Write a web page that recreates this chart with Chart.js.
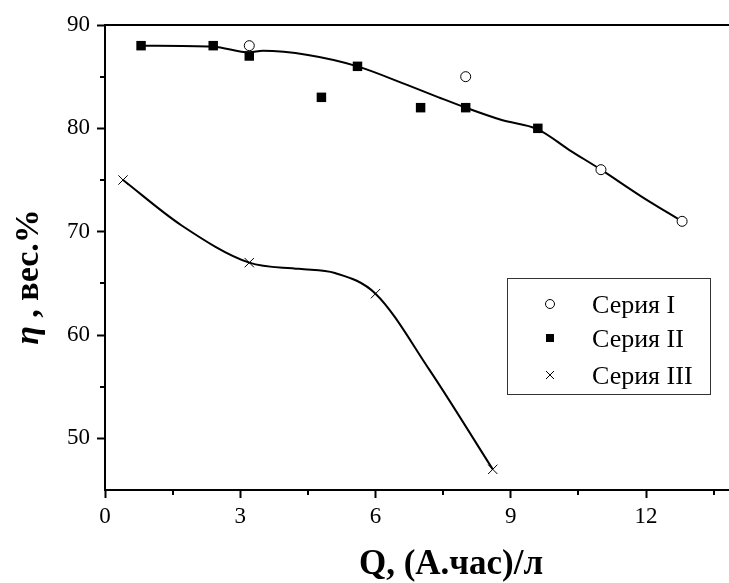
<!DOCTYPE html>
<html>
<head>
<meta charset="utf-8">
<script src="https://cdn.jsdelivr.net/npm/chart.js@4.4.1/dist/chart.umd.min.js"></script>
<style>
html, body { margin: 0; padding: 0; background: #fff; }
#wrap { width: 729px; height: 583px; }
</style>
</head>
<body>
<div id="wrap"><canvas id="chart" width="729" height="583"></canvas></div>
<script>
// Серия I (открытые кружки)
const q1 = [3.2, 8.0, 11.0, 12.8];
const eta1 = [88, 85, 76, 71];
// Серия II (квадраты)
const q2 = [0.8, 2.4, 3.2, 4.8, 5.6, 7.0, 8.0, 9.6];
const eta2 = [88, 88, 87, 83, 86, 82, 82, 80];
// Серия III (крестики)
const q3 = [0.4, 3.2, 6.0, 8.6];
const eta3 = [75, 67, 64, 47];

// сглаженные кривые
const fitQ12 = [0.8, 2.4, 3.2, 3.5, 4.5, 5.6, 6.7, 7.4, 8.0, 8.8, 9.6, 10.3, 11.0, 11.9, 12.8];
const fitEta12 = [88, 87.9, 87.35, 87.5, 87.1, 86.0, 84.2, 83.0, 82.0, 80.8, 79.9, 77.9, 76, 73.4, 71];
const fitQ3 = [0.4, 1.7, 3.2, 4.3, 5.1, 6.0, 7.2, 8.6];
const fitEta3 = [75, 70.6, 67, 66.4, 66, 64, 56.6, 47];

const xTicks = [0, 3, 6, 9, 12];
const xMinor = [1.5, 4.5, 7.5, 10.5, 13.5];
const yTicks = [50, 60, 70, 80, 90];
const yMinor = [55, 65, 75, 85];
const seriesNames = ['Серия I', 'Серия II', 'Серия III'];
const xTitle = 'Q, (А.час)/л';
const yTitleSym = 'η';
const yTitleRest = ' , вес.%';

const pts = (xs, ys) => xs.map((v, i) => ({ x: v, y: ys[i] }));
const serif = '"Liberation Serif", "Times New Roman", serif';

// рамка сверху, мелкие засечки, подписи осей и легенда
const extras = {
    id: 'extras',
    afterDraw(chart) {
        const { ctx, chartArea: a, scales: { x, y } } = chart;
        ctx.save();
        ctx.strokeStyle = '#000';
        ctx.lineWidth = 2;
        ctx.beginPath();
        ctx.moveTo(a.left - 1, a.top);
        ctx.lineTo(a.right, a.top);
        ctx.stroke();

        ctx.beginPath();
        xMinor.forEach(v => {
            const px = Math.round(x.getPixelForValue(v));
            ctx.moveTo(px, a.bottom);
            ctx.lineTo(px, a.bottom + 5);
        });
        yMinor.forEach(v => {
            const py = Math.round(y.getPixelForValue(v));
            ctx.moveTo(a.left, py);
            ctx.lineTo(a.left - 5, py);
        });
        ctx.stroke();

        // подпись оси X
        ctx.fillStyle = '#000';
        ctx.font = 'bold 35px ' + serif;
        ctx.textAlign = 'center';
        ctx.textBaseline = 'alphabetic';
        ctx.fillText(xTitle, 451, 574);

        // подпись оси Y
        ctx.save();
        ctx.translate(38, 277);
        ctx.rotate(-Math.PI / 2);
        ctx.textAlign = 'left';
        const fSym = 'bold italic 34px ' + serif;
        const fRest = 'bold 34px ' + serif;
        ctx.font = fSym;
        const w1 = ctx.measureText(yTitleSym).width;
        ctx.font = fRest;
        const w2 = ctx.measureText(yTitleRest).width;
        let sx = -(w1 + w2) / 2;
        ctx.font = fSym;
        ctx.fillText(yTitleSym, sx, 0);
        ctx.font = fRest;
        ctx.fillText(yTitleRest, sx + w1, 0);
        ctx.restore();

        // легенда
        ctx.lineWidth = 1;
        ctx.strokeStyle = '#333';
        ctx.strokeRect(507.5, 278.5, 203, 116);
        ctx.font = '26px ' + serif;
        ctx.textAlign = 'left';
        const rows = [304, 338, 375];
        const mx = 550;
        ctx.strokeStyle = '#000';
        // кружок
        ctx.beginPath();
        ctx.arc(mx, rows[0], 4.5, 0, Math.PI * 2);
        ctx.fillStyle = '#fff';
        ctx.fill();
        ctx.stroke();
        // квадрат
        ctx.fillStyle = '#000';
        ctx.fillRect(mx - 4, rows[1] - 4, 8, 8);
        // крестик
        ctx.beginPath();
        ctx.moveTo(mx - 4, rows[2] - 4); ctx.lineTo(mx + 4, rows[2] + 4);
        ctx.moveTo(mx - 4, rows[2] + 4); ctx.lineTo(mx + 4, rows[2] - 4);
        ctx.stroke();
        seriesNames.forEach((n, i) => ctx.fillText(n, 592, rows[i] + 9));
        ctx.restore();
    }
};

const ctx = document.getElementById('chart').getContext('2d');
new Chart(ctx, {
    type: 'scatter',
    data: {
        datasets: [
            {
                label: seriesNames[1],
                data: pts(q2, eta2),
                pointStyle: 'rect',
                pointRadius: 6.7,
                pointBackgroundColor: '#000',
                pointBorderColor: '#000',
                pointBorderWidth: 0
            },
            {
                label: seriesNames[0],
                data: pts(q1, eta1),
                pointStyle: 'circle',
                pointRadius: 5,
                pointBackgroundColor: '#fff',
                pointBorderColor: '#000',
                pointBorderWidth: 1
            },
            {
                label: seriesNames[2],
                data: pts(q3, eta3),
                pointStyle: 'crossRot',
                pointRadius: 6.6,
                pointBorderColor: '#000',
                pointBorderWidth: 1
            },
            {
                label: 'fit12',
                data: pts(fitQ12, fitEta12),
                showLine: true,
                pointRadius: 0,
                borderColor: '#000',
                borderWidth: 2,
                cubicInterpolationMode: 'monotone'
            },
            {
                label: 'fit3',
                data: pts(fitQ3, fitEta3),
                showLine: true,
                pointRadius: 0,
                borderColor: '#000',
                borderWidth: 2,
                cubicInterpolationMode: 'monotone'
            }
        ]
    },
    options: {
        responsive: false,
        animation: false,
        devicePixelRatio: 1,
        layout: { autoPadding: false, padding: { top: 25, right: 0, left: 0, bottom: 0 } },
        plugins: {
            legend: { display: false },
            tooltip: { enabled: false }
        },
        scales: {
            x: {
                type: 'linear',
                min: 0,
                max: 13.84,
                afterBuildTicks: s => { s.ticks = xTicks.map(v => ({ value: v })); },
                afterFit: s => { s.height = 93; s.paddingRight = 0; s.paddingLeft = 0; },
                border: { display: true, color: '#000', width: 2 },
                grid: { drawOnChartArea: false, drawTicks: true, tickLength: 8, tickColor: '#000', tickWidth: 2 },
                ticks: { color: '#000', font: { family: serif, size: 23 }, padding: 5, maxRotation: 0 }
            },
            y: {
                type: 'linear',
                min: 45,
                max: 90,
                afterBuildTicks: s => { s.ticks = yTicks.map(v => ({ value: v })); },
                afterFit: s => { s.width = 105; },
                border: { display: true, color: '#000', width: 2 },
                grid: { drawOnChartArea: false, drawTicks: true, tickLength: 8, tickColor: '#000', tickWidth: 2 },
                ticks: { color: '#000', font: { family: serif, size: 23 }, padding: 7 }
            }
        }
    },
    plugins: [extras]
});
</script>
</body>
</html>
